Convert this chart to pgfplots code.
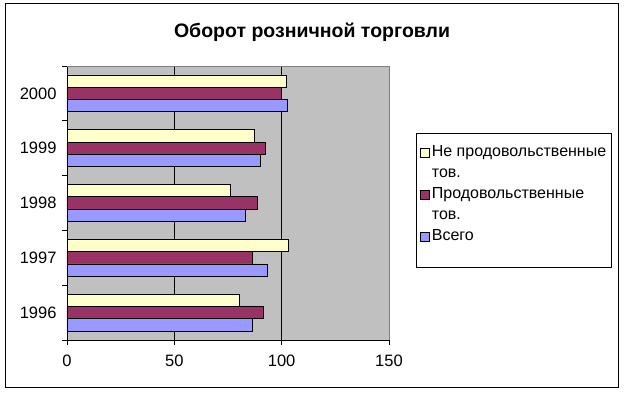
\documentclass[border=0pt]{standalone}
\usepackage{pgfplots}
\pgfplotsset{compat=1.18}
\usepackage{fontspec}
\setmainfont{Liberation Sans}
\definecolor{bgc}{HTML}{C0C0C0}
\definecolor{yel}{HTML}{FFFFCC}
\definecolor{mar}{HTML}{993366}
\definecolor{blu}{HTML}{9999FF}
\pgfplotsset{sqlegend/.style={legend image code/.code={\draw[##1, draw=black, line width=0.9pt] (0pt,-4.5pt) rectangle (9pt,4.5pt);}}}
\begin{document}
\begin{tikzpicture}[x=1pt,y=1pt]
\path[use as bounding box] (0,0) rectangle (625,392);
\draw[black, line width=1pt] (5,5) rectangle (618,388);
\node[font=\bfseries\fontsize{19.5}{23}\selectfont] at (312,360) {Оборот розничной торговли};
\begin{axis}[at={(67pt,52pt)}, anchor=south west, scale only axis,
  width=322pt, height=274pt,
  xbar, bar width=12.3pt,
  xmin=0, xmax=150, ymin=0.5, ymax=5.5,
  xtick={0,50,100,150},
  ytick={1,2,3,4,5}, yticklabels={1996,1997,1998,1999,2000},
  minor ytick={0.5,1.5,2.5,3.5,4.5,5.5},
  axis background/.style={fill=bgc},
  axis x line*=bottom, axis y line*=left,
  axis line style={black, line width=0.9pt},
  xmajorgrids, major grid style={black, line width=0.9pt},
  tick align=outside, major tick length=5pt, minor tick length=5pt,
  major x tick style={black, line width=0.9pt},
  major y tick style={draw=none},
  minor y tick style={black, line width=0.9pt},
  /pgf/number format/assume math mode=true,
  ticklabel style={font=\fontsize{16.5}{19}\selectfont},
  xticklabel style={yshift=-6pt},
  yticklabel style={xshift=-2pt},
  legend style={at={(1.0839,0.7555)}, anchor=north west, draw=black, line width=0.9pt,
    fill=white, font=\fontsize{16}{19}\selectfont, row sep=2.5pt,
    inner xsep=4pt, inner ysep=10pt,
    nodes={text height=12pt, text depth=3.5pt, inner sep=1.5pt}},
  legend cell align=left,
  clip=false,
]
\draw[gray, line width=0.9pt] (rel axis cs:0,1) -- (rel axis cs:1,1) -- (rel axis cs:1,0);
\addplot[fill=yel, draw=black, line width=0.9pt, bar shift=12.3pt, sqlegend] coordinates {(80.3,1) (103.1,2) (76.1,3) (87.2,4) (102.2,5)};
\addlegendentry{Не продовольственные}
\addlegendimage{empty legend}
\addlegendentry{тов.}
\addplot[fill=mar, draw=black, line width=0.9pt, bar shift=0pt, sqlegend] coordinates {(91.4,1) (86.2,2) (88.7,3) (92.4,4) (99.8,5)};
\addlegendentry{Продовольственные}
\addlegendimage{empty legend}
\addlegendentry{тов.}
\addplot[fill=blu, draw=black, line width=0.9pt, bar shift=-12.3pt, sqlegend] coordinates {(86.3,1) (93.3,2) (83.1,3) (90.0,4) (102.6,5)};
\addlegendentry{Всего}
\addlegendimage{empty legend}
\addlegendentry[text height=6pt, text depth=0pt]{}
\end{axis}
\end{tikzpicture}
\end{document}
